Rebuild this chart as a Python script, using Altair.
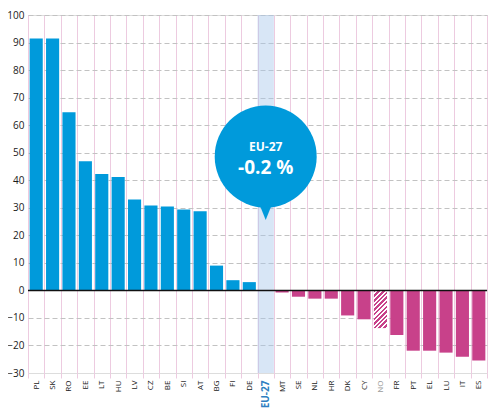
import altair as alt
import pandas as pd

COUNTRIES = ["PL", "SK", "RO", "EE", "LT", "HU", "LV", "CZ", "BE", "SI", "AT", "BG", "FI", "DE",
             "EU-27", "MT", "SE", "NL", "HR", "DK", "CY", "NO", "FR", "PT", "EL", "LU", "IT", "ES"]
VALUES = [91.5, 91.5, 64.7, 46.9, 42.3, 41.2, 33.0, 30.8, 30.5, 29.4, 28.7, 9.0, 3.7, 3.0,
          -0.2, -0.8, -2.3, -3.0, -3.0, -9.1, -10.5, -13.7, -16.2, -21.9, -21.9, -22.6, -24.1, -25.5]
Y_TICKS = list(range(-30, 101, 10))

AVERAGE = "EU-27"
HATCHED = "NO"

BLUE = "#009ADB"
MAGENTA = "#C8418A"
BAND = "#A9C7EC"
PINK_GRID = "#EDCBE0"
EU_LABEL = "#2F7FC1"

W, H = 459, 358
BUBBLE_Y = 48.6
POINTER_Y = 29.2


def hatch_gradient(w, h, period=4.6, share=0.55):
    """Diagonal stripes made from a linear gradient with hard stops."""
    c = (w + h) / (w ** 2 + h ** 2)
    n = int(round((w + h) / period))
    stops = []
    for i in range(n):
        stops += [
            {"offset": i / n, "color": MAGENTA},
            {"offset": (i + share) / n, "color": MAGENTA},
            {"offset": (i + share) / n, "color": "#ffffff"},
            {"offset": (i + 1) / n, "color": "#ffffff"},
        ]
    return alt.Gradient(gradient="linear", x1=0, y1=0, x2=c * w, y2=c * h, stops=stops)


def plot_bars():
    df = pd.DataFrame({"country": COUNTRIES, "value": VALUES})
    avg = df.loc[df["country"] == AVERAGE, "value"].iloc[0]
    no_val = df.loc[df["country"] == HATCHED, "value"].iloc[0]

    x = alt.X(
        "country:N",
        sort=COUNTRIES,
        scale=alt.Scale(paddingInner=0, paddingOuter=0),
        axis=alt.Axis(
            title=None,
            labelAngle=-90,
            labelFontSize={"condition": {"test": f"datum.value === '{AVERAGE}'", "value": 10}, "value": 8},
            labelFontWeight={"condition": {"test": f"datum.value === '{AVERAGE}'", "value": "bold"}, "value": "normal"},
            labelColor={
                "condition": [
                    {"test": f"datum.value === '{AVERAGE}'", "value": EU_LABEL},
                    {"test": f"datum.value === '{HATCHED}'", "value": "#9a9a9a"},
                ],
                "value": "#1a1a1a",
            },
            labelPadding=2,
            tickBand="extent",
            tickColor=PINK_GRID,
            tickSize=5,
            grid=True,
            gridColor=PINK_GRID,
            gridWidth=1,
            domain=False,
        ),
    )
    y_scale = alt.Scale(domain=[-30, 100], nice=False)
    y_axis = alt.Axis(
        title=None,
        values=Y_TICKS,
        labelFontSize=10,
        labelColor="#1a1a1a",
        labelPadding=4,
        labelOverlap=False,
        ticks=False,
        domain=False,
        grid=True,
        gridColor={"condition": {"test": "datum.value <= -30", "value": "#ffffff"}, "value": "#C2C2C2"},
        gridDash=[5, 3],
        gridOpacity={"condition": {"test": "datum.value <= -30", "value": 0}, "value": 1},
    )

    def y(field):
        return alt.Y(field, scale=y_scale, axis=y_axis)

    base = alt.Chart(df)

    band = (
        base.transform_filter(alt.datum.country == AVERAGE)
        .transform_calculate(top="100", bottom="-30")
        .mark_bar(color=BAND, opacity=0.45)
        .encode(x=x, y=y("top:Q"), y2="bottom:Q")
    )

    bars = (
        base.transform_filter(
            (alt.datum.country != AVERAGE) & (alt.datum.country != HATCHED)
        )
        .mark_bar(width=alt.RelativeBandSize(0.8))
        .encode(
            x=x,
            y=y("value:Q"),
            color=alt.condition(alt.datum.value > 0, alt.value(BLUE), alt.value(MAGENTA)),
        )
    )

    bar_w = 0.8 * W / len(COUNTRIES)
    bar_h = abs(no_val) * H / 130
    hatched = (
        base.transform_filter(alt.datum.country == HATCHED)
        .mark_bar(width=alt.RelativeBandSize(0.8), color=hatch_gradient(bar_w, bar_h))
        .encode(x=x, y=y("value:Q"))
    )

    zero = (
        alt.Chart(pd.DataFrame({"value": [0]}))
        .mark_rule(color="#111111", strokeWidth=1.5)
        .encode(y=y("value:Q"))
    )

    bubble_df = df[df["country"] == AVERAGE].assign(
        label=f"{avg:.1f} %", by=BUBBLE_Y, py=POINTER_Y
    )
    bubble_base = alt.Chart(bubble_df)
    pointer = bubble_base.mark_point(
        shape="M-0.8,-1L0.8,-1L0,1Z", size=400, filled=True, color=BLUE, opacity=1
    ).encode(x=x, y=y("py:Q"))
    circle = bubble_base.mark_point(
        shape="circle", size=10400, filled=True, color=BLUE, opacity=1
    ).encode(x=x, y=y("by:Q"))
    name = bubble_base.mark_text(
        dy=-10, fontSize=12, fontWeight="bold", color="white", font="Open Sans"
    ).encode(x=x, y=y("by:Q"), text="country:N")
    pct = bubble_base.mark_text(
        dy=11, fontSize=19, fontWeight="bold", color="white", font="Open Sans"
    ).encode(x=x, y=y("by:Q"), text="label:N")

    chart = (
        alt.layer(band, bars, hatched, zero, pointer, circle, name, pct)
        .properties(
            width=W,
            height=H,
            autosize=alt.AutoSizeParams(type="none"),
            padding={"left": 20, "top": 7, "right": 3, "bottom": 42},
        )
        .configure_view(stroke=None)
        .configure(font="Open Sans")
    )
    return chart


chart = plot_bars()
chart.save("out.html", embed_options={"renderer": "svg", "actions": False})
